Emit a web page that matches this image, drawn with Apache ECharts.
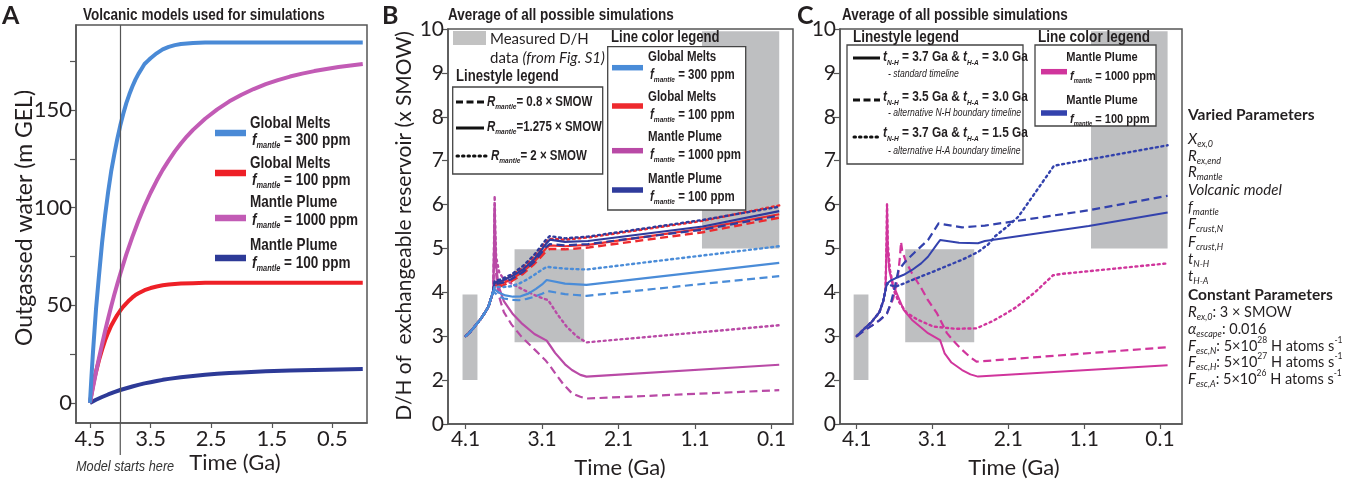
<!DOCTYPE html>
<html><head><meta charset="utf-8">
<script src="https://cdn.jsdelivr.net/npm/echarts@6/dist/echarts.min.js"></script>
<style>html,body{margin:0;padding:0;background:#fff}#c{width:1355px;height:485px}</style>
</head><body><div id="c"></div><script>
// ---------------- DATA ----------------
// Panel A: outgassed water (m GEL) vs time (Ga)
const aTickX = [4.5, 3.5, 2.5, 1.5, 0.5];
const aTickY = [0, 25, 50, 75, 100, 125, 150, 175];
const aLabelY = [0, 50, 100, 150];
const modelStart = 4.0;
const aGM300 = [[4.5,0],[4.475,13.5],[4.45,26],[4.425,37],[4.4,48],[4.35,65.5],[4.3,82],[4.25,96],[4.2,108],[4.15,118.5],[4.1,127],[4.05,135],[4.0,142],[3.95,148],[3.9,153.5],[3.85,158],[3.8,162],[3.75,165.5],[3.7,168.5],[3.65,171],[3.6,173.5],[3.55,175],[3.5,176.5],[3.4,179],[3.3,181],[3.2,182.3],[3.1,183.2],[3.0,183.8],[2.8,184.3],[2.6,184.5],[0,184.5]];
const aGM100 = [[4.5,0],[4.475,4.5],[4.45,8.7],[4.425,12.5],[4.4,16],[4.35,22],[4.3,27.3],[4.25,32],[4.2,36],[4.15,39.5],[4.1,42.3],[4.05,45],[4.0,47.3],[3.95,49.3],[3.9,51],[3.85,52.6],[3.8,54],[3.75,55.2],[3.7,56.1],[3.6,57.7],[3.5,58.8],[3.4,59.6],[3.3,60.2],[3.2,60.6],[3.1,60.9],[3.0,61.1],[2.8,61.3],[2.6,61.5],[0,61.5]];
const aMP1000 = [[4.5,0],[4.45,8],[4.4,15.8],[4.35,23],[4.3,30],[4.25,36.8],[4.2,43.2],[4.15,49.3],[4.1,55.2],[4.05,60.7],[4.0,66],[3.9,76],[3.8,85],[3.7,93.3],[3.6,100.8],[3.5,107.6],[3.4,113.7],[3.3,119.3],[3.2,124.2],[3.1,128.8],[3.0,132.8],[2.9,136.5],[2.8,139.8],[2.6,145.5],[2.4,150.3],[2.2,154.4],[2.0,157.8],[1.8,160.7],[1.6,163.2],[1.4,165.3],[1.2,167.1],[1.0,168.6],[0.8,169.9],[0.6,171],[0.4,172],[0.2,172.8],[0,173.5]];
const aMP100 = [[4.5,0],[4.4,1.6],[4.3,3.0],[4.2,4.3],[4.1,5.5],[4.0,6.6],[3.9,7.5],[3.8,8.4],[3.7,9.2],[3.6,10.0],[3.5,10.6],[3.4,11.2],[3.3,11.8],[3.2,12.3],[3.0,13.1],[2.8,13.8],[2.6,14.4],[2.4,14.9],[2.2,15.3],[2.0,15.6],[1.6,16.2],[1.2,16.6],[0.8,16.9],[0.4,17.1],[0,17.3]];

// Panels B & C: D/H of exchangeable reservoir (x SMOW) vs time (Ga)
const dhTickX = [4.1, 3.1, 2.1, 1.1, 0.1];
const dhTickY = [1, 2, 3, 4, 5, 6, 7, 8, 9, 10];
const dhTickYLabels = ['0', '2', '3', '4', '5', '6', '7', '8', '9', '10'];
// measured D/H boxes: [t0, t1, dhLow, dhHigh]
const dhBoxes = [[4.14, 3.945, 2.0, 3.95], [3.46, 2.55, 2.86, 4.98], [1.01, 0.0, 5.0, 9.95]];

// Panel B
const bRise = [[4.1,3.0],[4.05,3.08],[4.0,3.18],[3.95,3.29],[3.9,3.4],[3.85,3.53],[3.8,3.68],[3.77,3.85],[3.74,4.02]];
const bGM300Dash = [[3.72,4.02],[3.68,3.93],[3.6,3.86],[3.5,3.83],[3.4,3.82],[3.3,3.85],[3.2,3.9],[3.1,3.97],[3.03,4.03],[2.8,3.96],[2.52,3.92],[0,4.37]];
const bGM300Solid = [[3.72,4.07],[3.66,3.99],[3.58,3.93],[3.48,3.9],[3.38,3.91],[3.28,3.97],[3.18,4.08],[3.1,4.18],[3.04,4.28],[2.8,4.2],[2.52,4.17],[0,4.67]];
const bGM300Dot = [[3.72,4.13],[3.62,4.12],[3.5,4.14],[3.4,4.2],[3.3,4.29],[3.2,4.4],[3.1,4.52],[3.04,4.58],[2.8,4.54],[2.52,4.52],[0,5.05]];
const bGM100Dash = [[3.72,4.12],[3.62,4.15],[3.5,4.25],[3.35,4.42],[3.2,4.65],[3.05,4.93],[3.0,4.99],[2.8,4.98],[2.5,5.02],[1.0,5.37],[0,5.7]];
const bGM100Solid = [[3.72,4.15],[3.62,4.2],[3.5,4.3],[3.35,4.47],[3.2,4.7],[3.05,5.0],[3.0,5.07],[2.8,5.05],[2.5,5.08],[1.0,5.45],[0,5.78]];
const bGM100Dot = [[3.72,4.2],[3.62,4.26],[3.5,4.38],[3.35,4.56],[3.2,4.82],[3.05,5.15],[3.0,5.22],[2.8,5.2],[2.5,5.25],[1.0,5.63],[0,5.98]];
const bMP100Dash = [[3.72,4.18],[3.62,4.22],[3.5,4.3],[3.35,4.46],[3.2,4.7],[3.05,5.03],[3.0,5.1],[2.8,5.07],[2.5,5.1],[1.0,5.43],[0,5.75]];
const bMP100Solid = [[3.72,4.22],[3.62,4.27],[3.5,4.36],[3.35,4.52],[3.2,4.76],[3.05,5.1],[3.0,5.2],[2.8,5.15],[2.5,5.17],[1.0,5.5],[0,5.85]];
const bMP100Dot = [[3.72,4.25],[3.62,4.31],[3.5,4.41],[3.35,4.6],[3.2,4.86],[3.05,5.2],[3.0,5.28],[2.8,5.23],[2.5,5.27],[1.0,5.65],[0,5.95]];
const bMP1000Dash = [[3.735,4.3],[3.725,5.2],[3.72,5.9],[3.712,5.0],[3.7,4.4],[3.67,3.95],[3.6,3.55],[3.5,3.27],[3.37,2.99],[3.2,2.7],[3.06,2.46],[3.0,2.33],[2.93,2.16],[2.82,1.9],[2.71,1.7],[2.6,1.62],[2.52,1.58],[0,1.77]];
const bMP1000Solid = [[3.735,4.3],[3.725,5.3],[3.72,6.0],[3.712,5.2],[3.7,4.6],[3.67,4.15],[3.6,3.8],[3.48,3.5],[3.37,3.3],[3.2,3.05],[3.04,2.9],[3.0,2.8],[2.93,2.62],[2.8,2.36],[2.71,2.23],[2.6,2.12],[2.52,2.08],[0,2.35]];
const bMP1000Dot = [[3.735,4.4],[3.725,5.5],[3.72,6.2],[3.712,5.4],[3.7,4.8],[3.66,4.45],[3.6,4.3],[3.5,4.2],[3.3,4.02],[3.15,3.9],[3.02,3.82],[2.9,3.5],[2.78,3.22],[2.65,3.0],[2.52,2.86],[0,3.25]];

// Panel C
const cRise = [[4.1,3.0],[4.0,3.17],[3.9,3.33],[3.8,3.55],[3.75,3.8],[3.72,4.05]];
const cRiseDash = [[4.1,3.0],[4.0,3.13],[3.9,3.24],[3.8,3.36],[3.7,3.52]];
const cMP100Solid = [[3.7,4.2],[3.65,4.27],[3.59,4.32],[3.48,4.4],[3.37,4.51],[3.25,4.66],[3.16,4.81],[3.04,5.1],[3.0,5.19],[2.75,5.13],[2.5,5.12],[2.41,5.17],[1.04,5.51],[0,5.82]];
const cMP100Dash = [[3.65,3.75],[3.6,4.1],[3.55,4.5],[3.45,4.72],[3.33,4.92],[3.16,5.19],[3.02,5.57],[2.85,5.52],[2.71,5.48],[2.41,5.52],[1.04,5.87],[0,6.2]];
const cMP100Dot = [[3.7,4.2],[3.65,4.16],[3.59,4.13],[3.48,4.2],[3.37,4.28],[3.15,4.43],[2.94,4.58],[2.7,4.75],[2.5,4.92],[2.36,5.1],[2.28,5.27],[2.1,5.52],[1.97,5.72],[1.75,6.26],[1.5,6.88],[1.45,6.9],[0,7.35]];
const cMP1000Solid = [[3.705,5.2],[3.7,6.0],[3.69,5.0],[3.67,4.5],[3.63,4.2],[3.59,4.05],[3.48,3.6],[3.37,3.37],[3.25,3.2],[3.16,3.07],[3.0,2.91],[2.94,2.61],[2.85,2.4],[2.71,2.23],[2.6,2.13],[2.5,2.08],[0,2.34]];
const cMP1000Dash = [[3.62,3.85],[3.56,4.3],[3.53,4.8],[3.515,5.15],[3.5,4.95],[3.45,4.7],[3.37,4.43],[3.25,4.1],[3.16,3.82],[3.04,3.52],[2.91,3.07],[2.8,2.85],[2.71,2.69],[2.6,2.52],[2.52,2.42],[0,2.75]];
const cMP1000Dot = [[3.705,5.2],[3.7,6.0],[3.69,5.1],[3.66,4.5],[3.6,4.0],[3.55,3.8],[3.44,3.53],[3.3,3.38],[3.09,3.22],[2.8,3.17],[2.52,3.18],[2.3,3.35],[2.1,3.55],[1.99,3.67],[1.75,4.0],[1.51,4.39],[1.4,4.42],[0,4.66]];

// ---------------- STYLE ----------------
const FN = "'Liberation Sans',Arial,sans-serif";   // drawn with horizontal condensing
const NARROW = 0.82;
const FL = "Lato,'Open Sans',sans-serif";
const TXT = '#231f20';
const FRAME = '#555';
const COL = { gm300: '#4a8cd8', gm100: '#ee2a2e', mp1000B: '#b94aa6', mp100B: '#2f3b9c', mp1000C: '#d0359c', mp100C: '#3342ad',
              gm300A: '#4a8ad6', gm100A: '#ee2027', mp1000A: '#c25bb5', mp100A: '#2d3a97' };
const BOXFILL = 'rgba(147,148,151,0.6)';

const chart = echarts.init(document.getElementById('c'), null, { renderer: 'canvas' });

function dashType(s) { return s === 'dash' ? [8, 4.5] : s === 'dot' ? [2, 3.6] : 'solid'; }
function ln(data, g, color, style, width) {
  return { type: 'line', xAxisIndex: g, yAxisIndex: g, data, symbol: 'none', silent: true, z: 2,
    lineStyle: { color, width, type: dashType(style), cap: style === 'dot' ? 'round' : 'butt', join: 'round' } };
}
function boxSeries(g) {
  return { type: 'line', xAxisIndex: g, yAxisIndex: g, data: [], symbol: 'none', silent: true, z: 5,
    markArea: { silent: true, itemStyle: { color: BOXFILL }, label: { show: false },
      data: dhBoxes.map(r => [{ coord: [r[0], r[2]] }, { coord: [r[1], r[3]] }]) } };
}
function xAxisCfg(g, min, max, ticks, fs) {
  return { type: 'value', gridIndex: g, inverse: true, min, max,
    axisLine: { show: true, onZero: false, lineStyle: { color: FRAME, width: 1.5 } },
    splitLine: { show: false },
    axisTick: { show: true, customValues: ticks, length: 5, lineStyle: { color: FRAME, width: 1.2 } },
    axisLabel: { customValues: ticks, formatter: v => v.toFixed(1), fontSize: fs, fontFamily: FL, color: TXT, margin: 5 } };
}
function yAxisCfg(g, min, max, ticks, labels, fs, fmt) {
  return { type: 'value', gridIndex: g, min, max,
    axisLine: { show: true, onZero: false, lineStyle: { color: FRAME, width: 1.5 } },
    splitLine: { show: false },
    axisTick: { show: true, customValues: ticks, length: 6, lineStyle: { color: FRAME, width: 1.2 } },
    axisLabel: { customValues: labels, formatter: fmt, fontSize: fs, fontFamily: FL, color: TXT, margin: 4 } };
}
const dhFmt = v => dhTickYLabels[dhTickY.indexOf(Math.round(v))] ?? '';

const series = [
  // Panel A
  ln(aMP100, 0, COL.mp100A, 'solid', 4),
  ln(aGM100, 0, COL.gm100A, 'solid', 4),
  ln(aMP1000, 0, COL.mp1000A, 'solid', 4),
  ln(aGM300, 0, COL.gm300A, 'solid', 4),
  { type: 'line', xAxisIndex: 0, yAxisIndex: 0, data: [], symbol: 'none', silent: true, z: 3,
    markLine: { silent: true, symbol: ['none', 'none'], label: { show: false }, animation: false,
      lineStyle: { color: '#555', width: 1.2, type: 'solid' }, data: [{ xAxis: modelStart }] } },
  // Panel B
  ln(bRise.concat(bMP1000Dash), 1, COL.mp1000B, 'dash', 2.2),
  ln(bRise.concat(bMP1000Solid), 1, COL.mp1000B, 'solid', 2.2),
  ln(bRise.concat(bMP1000Dot), 1, COL.mp1000B, 'dot', 2.4),
  ln(bRise.concat(bGM100Dash), 1, COL.gm100, 'dash', 2.4),
  ln(bRise.concat(bGM100Solid), 1, COL.gm100, 'solid', 2.2),
  ln(bRise.concat(bGM100Dot), 1, COL.gm100, 'dot', 2.4),
  ln(bRise.concat(bMP100Dash), 1, COL.mp100B, 'dash', 2.2),
  ln(bRise.concat(bMP100Solid), 1, COL.mp100B, 'solid', 2.2),
  ln(bRise.concat(bMP100Dot), 1, COL.mp100B, 'dot', 2.4),
  ln(bRise.concat(bGM300Dash), 1, COL.gm300, 'dash', 2.2),
  ln(bRise.concat(bGM300Solid), 1, COL.gm300, 'solid', 2.2),
  ln(bRise.concat(bGM300Dot), 1, COL.gm300, 'dot', 2.4),
  boxSeries(1),
  // Panel C
  ln(cRise.concat(cMP1000Solid), 2, COL.mp1000C, 'solid', 2),
  ln(cRiseDash.concat(cMP1000Dash), 2, COL.mp1000C, 'dash', 2.2),
  ln(cRise.concat(cMP1000Dot), 2, COL.mp1000C, 'dot', 2.4),
  ln(cRise.concat(cMP100Solid), 2, COL.mp100C, 'solid', 2),
  ln(cRiseDash.concat(cMP100Dash), 2, COL.mp100C, 'dash', 2.2),
  ln(cRise.concat(cMP100Dot), 2, COL.mp100C, 'dot', 2.4),
  boxSeries(2)
];

const option = {
  animation: false,
  backgroundColor: '#fff',
  grid: [
    { left: 76, top: 25, width: 291, height: 398, show: true, borderColor: FRAME, borderWidth: 1.5, backgroundColor: 'transparent' },
    { left: 448, top: 29, width: 345, height: 395, show: true, borderColor: FRAME, borderWidth: 1.5, backgroundColor: 'transparent' },
    { left: 840, top: 29, width: 342, height: 395, show: true, borderColor: FRAME, borderWidth: 1.5, backgroundColor: 'transparent' }
  ],
  xAxis: [
    xAxisCfg(0, -0.07, 4.73, aTickX, 22),
    xAxisCfg(1, -0.18, 4.33, dhTickX, 21),
    xAxisCfg(2, -0.19, 4.32, dhTickX, 21)
  ],
  yAxis: [
    yAxisCfg(0, -10.3, 193.5, aTickY, aLabelY, 22, v => String(v)),
    yAxisCfg(1, 1, 10, dhTickY, dhTickY, 21, dhFmt),
    yAxisCfg(2, 1, 10, dhTickY, dhTickY, 21, dhFmt)
  ],
  series
};
chart.setOption(option);

// ---------------- ANNOTATIONS (graphic) ----------------
function rs(sz, color) {
  color = color || TXT;
  return {
    b: { fontFamily: FN, fontWeight: 'bold', fontSize: sz, lineHeight: Math.round(sz * 1.3), color },
    bi: { fontFamily: FN, fontWeight: 'bold', fontStyle: 'italic', fontSize: sz, lineHeight: Math.round(sz * 1.3), color },
    s: { fontFamily: FN, fontWeight: 'bold', fontStyle: 'italic', fontSize: Math.round(sz * 0.55), lineHeight: Math.round(sz * 0.55), verticalAlign: 'bottom', color },
    r: { fontFamily: FL, fontSize: sz, lineHeight: Math.round(sz * 1.3), color },
    ri: { fontFamily: FL, fontStyle: 'italic', fontSize: sz, lineHeight: Math.round(sz * 1.3), color },
    it: { fontFamily: FN, fontStyle: 'italic', fontSize: sz, lineHeight: Math.round(sz * 1.3), color }
  };
}
function T(x, y, text, rich, align, sx) {
  const e = { type: 'text', x, y, z: 100, silent: true,
    style: { text, rich, align: align || 'left', verticalAlign: 'middle', fill: TXT } };
  if (sx) e.scaleX = sx;
  return e;
}
function plain(x, y, text, font, color, align, rot, sx) {
  const e = { type: 'text', x, y, z: 100, silent: true,
    style: { text, font, fill: color || TXT, align: align || 'left', verticalAlign: 'middle' } };
  if (rot) e.rotation = rot;
  if (sx) e.scaleX = sx;
  return e;
}
function seg(x1, y1, x2, y2, color, w, dash) {
  return { type: 'line', z: 100, silent: true, shape: { x1, y1, x2, y2 },
    style: { stroke: color, lineWidth: w, lineDash: dash || null, lineCap: dash && dash[0] < 3 ? 'round' : 'butt' } };
}
function box(x, y, w, h, fill, stroke) {
  return { type: 'rect', z: 99, silent: true, shape: { x, y, width: w, height: h },
    style: { fill: fill || '#fff', stroke: stroke || null, lineWidth: 1.3 } };
}

const g = [];
// panel letters and titles
g.push(plain(2, 16, 'A', "bold 25px " + FL));
g.push(plain(382, 16, 'B', "bold 25px " + FL));
g.push(plain(797, 16, 'C', "bold 25px " + FL));
g.push(plain(83, 15, 'Volcanic models used for simulations', "bold 16.5px " + FN, TXT, 'left', 0, NARROW));
g.push(plain(448, 15, 'Average of all possible simulations', "bold 16.5px " + FN, TXT, 'left', 0, NARROW));
g.push(plain(842, 15, 'Average of all possible simulations', "bold 16.5px " + FN, TXT, 'left', 0, NARROW));
// axis names
g.push(plain(25, 218, 'Outgassed water (m GEL)', "23px " + FL, TXT, 'center', Math.PI / 2));
g.push(plain(404, 226, 'D/H of  exchangeable reservoir (x SMOW)', "21px " + FL, TXT, 'center', Math.PI / 2));
g.push(plain(235, 463, 'Time (Ga)', "22px " + FL, TXT, 'center'));
g.push(plain(620, 468, 'Time (Ga)', "22px " + FL, TXT, 'center'));
g.push(plain(1014, 468, 'Time (Ga)', "22px " + FL, TXT, 'center'));
g.push(plain(76, 467, 'Model starts here', "italic 15.5px " + FN, '#333', 'left', 0, NARROW));

// Model start line extension below the axis (from library scale)
const msX = chart.convertToPixel({ xAxisIndex: 0 }, modelStart);
const aBottom = chart.convertToPixel({ yAxisIndex: 0 }, -10.3);
g.push(seg(msX, aBottom, msX, 455, '#555', 1.2));

// Panel A legend
const RA = rs(16.5);
const aLeg = [[COL.gm300A, 'Global Melts', '300', 123, 133, 140], [COL.gm100A, 'Global Melts', '100', 163, 173, 180],
              [COL.mp1000A, 'Mantle Plume', '1000', 202, 218, 220], [COL.mp100A, 'Mantle Plume', '100', 245, 258, 263]];
aLeg.forEach(r => {
  g.push(seg(215, r[4], 246, r[4], r[0], 6.5));
  g.push(T(250, r[3], '{b|' + r[1] + '}', RA, 'left', NARROW));
  g.push(T(252, r[5], '{bi|f}{s|mantle}{b| = ' + r[2] + ' ppm}', RA, 'left', NARROW));
});

// Panel B legends
g.push(box(453, 31, 33, 14, '#c2c2c2'));
const RG = rs(15, '#666');
g.push(T(490, 39, '{r|Measured D/H}', RG));
g.push(T(490, 58, '{r|data }{ri|(from Fig. S1)}', RG));
const RB = rs(16);
g.push(T(456, 77, '{b|Linestyle legend}', RB, 'left', NARROW));
g.push(box(452.7, 87, 150, 87, '#fff', '#444'));
const RB2 = rs(14);
g.push(seg(456, 102, 484, 102, '#111', 3, [7, 3.5]));
g.push(T(487, 102, '{bi|R}{s|mantle}{b|= 0.8 × SMOW}', RB2, 'left', NARROW));
g.push(seg(456, 128, 484, 128, '#111', 3));
g.push(T(487, 127, '{bi|R}{s|mantle}{b|=1.275 × SMOW}', RB2, 'left', NARROW));
g.push(seg(457, 156, 487, 156, '#111', 3, [1.5, 4]));
g.push(T(491, 156, '{bi|R}{s|mantle}{b|= 2 × SMOW}', RB2, 'left', NARROW));
g.push(T(611, 38, '{b|Line color legend}', RB, 'left', NARROW));
g.push(box(607.7, 46.7, 138, 163.3, '#fff', '#444'));
const RB3 = rs(14);
const bLeg = [[COL.gm300, 'Global Melts', '300', 57, 67.7, 75], [COL.gm100, 'Global Melts', '100', 97, 106, 115],
              [COL.mp1000B, 'Mantle Plume', '1000', 137, 150.7, 155], [COL.mp100B, 'Mantle Plume', '100', 179, 190, 197]];
bLeg.forEach(r => {
  g.push(seg(612, r[4], 643, r[4], r[0], 5.5));
  g.push(T(648, r[3], '{b|' + r[1] + '}', RB3, 'left', NARROW));
  g.push(T(650, r[5], '{bi|f}{s|mantle}{b| = ' + r[2] + ' ppm}', RB3, 'left', NARROW));
});

// Panel C legends
g.push(T(853, 37, '{b|Linestyle legend}', rs(16.5), 'left', NARROW));
g.push(box(847, 45, 176, 119, '#fff', '#444'));
const RC = rs(14.5);
const RC2 = rs(13.5);
const RCi = rs(10.5, '#555');
g.push(seg(853, 58, 880, 58, '#111', 3));
g.push(T(883, 57, '{bi|t}{s|N-H}{b| = 3.7 Ga & }{bi|t}{s|H-A}{b| = 3.0 Ga}', RC, 'left', NARROW));
g.push(T(888, 74, '{it|- standard timeline}', RCi, 'left', NARROW));
g.push(seg(853, 100, 880, 100, '#111', 3, [7, 3.5]));
g.push(T(883, 97, '{bi|t}{s|N-H}{b| = 3.5 Ga & }{bi|t}{s|H-A}{b| = 3.0 Ga}', RC, 'left', NARROW));
g.push(T(888, 113, '{it|- alternative N-H boundary timeline}', RCi, 'left', NARROW));
g.push(seg(854, 137, 880, 137, '#111', 3, [1.5, 4]));
g.push(T(883, 133, '{bi|t}{s|N-H}{b| = 3.7 Ga & }{bi|t}{s|H-A}{b| = 1.5 Ga}', RC, 'left', NARROW));
g.push(T(888, 151, '{it|- alternative H-A boundary timeline}', RCi, 'left', NARROW));
g.push(T(1038, 37, '{b|Line color legend}', rs(16.5), 'left', NARROW));
g.push(box(1035, 45, 121, 81, '#fff', '#444'));
g.push(seg(1041, 71.7, 1067, 71.7, COL.mp1000C, 5.5));
g.push(T(1102, 57, '{b|Mantle Plume}', RC2, 'center', NARROW));
g.push(T(1070, 76, '{bi|f}{s|mantle}{b| = 1000 ppm}', RC2, 'left', NARROW));
g.push(seg(1041, 113, 1067, 113, COL.mp100C, 5.5));
g.push(T(1102, 100, '{b|Mantle Plume}', RC2, 'center', NARROW));
g.push(T(1070, 119, '{bi|f}{s|mantle}{b| = 100 ppm}', RC2, 'left', NARROW));

// Right-hand parameter list
const RP = {
  h: { fontFamily: FL, fontWeight: 'bold', fontSize: 15.5, lineHeight: 20, color: TXT },
  i: { fontFamily: FL, fontStyle: 'italic', fontSize: 15, lineHeight: 20, color: TXT },
  n: { fontFamily: FL, fontSize: 14.5, lineHeight: 20, color: TXT },
  s: { fontFamily: FL, fontStyle: 'italic', fontSize: 9, lineHeight: 9, verticalAlign: 'bottom', color: TXT },
  p: { fontFamily: FL, fontSize: 8.5, lineHeight: 9, verticalAlign: 'top', color: TXT }
};
const params = [
  [115, '{h|Varied Parameters}'],
  [139, '{i|X}{s|ex,0}'],
  [156, '{i|R}{s|ex,end}'],
  [172, '{i|R}{s|mantle}'],
  [190, '{i|Volcanic model}'],
  [207, '{i|f}{s|mantle}'],
  [224, '{i|F}{s|crust,N}'],
  [242, '{i|F}{s|crust,H}'],
  [259, '{i|t}{s|N-H}'],
  [276, '{i|t}{s|H-A}'],
  [295, '{h|Constant Parameters}'],
  [312, '{i|R}{s|ex,0}{n|: 3 × SMOW}'],
  [329, '{i|α}{s|escape}{n|: 0.016}'],
  [346, '{i|F}{s|esc,N}{n|: 5×10}{p|28}{n| H atoms s}{p|-1}'],
  [362, '{i|F}{s|esc,H}{n|: 5×10}{p|27}{n| H atoms s}{p|-1}'],
  [379, '{i|F}{s|esc,A}{n|: 5×10}{p|26}{n| H atoms s}{p|-1}']
];
params.forEach(p => g.push(T(1188, p[0], p[1], RP)));

chart.setOption({ graphic: g });
</script></body></html>
